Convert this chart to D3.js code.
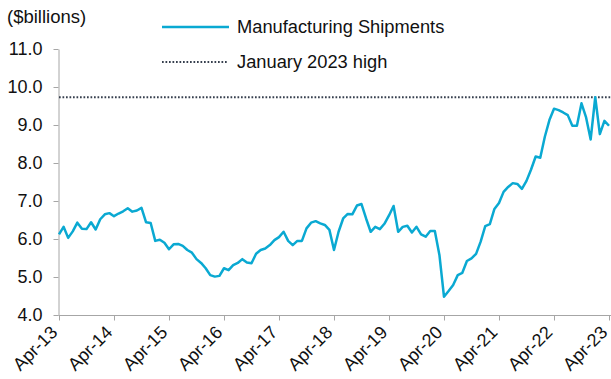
<!DOCTYPE html>
<html>
<head>
<meta charset="utf-8">
<script src="https://cdn.jsdelivr.net/npm/d3@7"></script>
<style>
  html, body { margin: 0; padding: 0; background: #fff; }
  svg { display: block; font-family: "Liberation Sans", Arial, sans-serif; }
</style>
</head>
<body>
<svg id="chart" width="611" height="379"></svg>
<script>
// ---- data (monthly, Apr-2013 .. Apr-2023, $ billions) ----
const startMonth = new Date(2013, 3, 1);
const shipments = [
  6.12, 6.32, 6.03, 6.20, 6.43, 6.27, 6.26, 6.44, 6.25, 6.52, 6.65, 6.68,
  6.60, 6.67, 6.73, 6.81, 6.72, 6.75, 6.82, 6.44, 6.42, 5.95, 5.98, 5.90,
  5.73, 5.86, 5.87, 5.82, 5.71, 5.64, 5.47, 5.37, 5.23, 5.05, 5.01, 5.03,
  5.23, 5.18, 5.31, 5.37, 5.47, 5.38, 5.36, 5.61, 5.71, 5.75, 5.84, 5.97,
  6.05, 6.19, 5.95, 5.84, 5.95, 5.95, 6.28, 6.43, 6.47, 6.41, 6.37, 6.24,
  5.71, 6.19, 6.54, 6.66, 6.65, 6.88, 6.92, 6.54, 6.19, 6.32, 6.26, 6.40,
  6.62, 6.87, 6.19, 6.32, 6.35, 6.17, 6.32, 6.12, 6.06, 6.21, 6.21, 5.58,
  4.48, 4.63, 4.79, 5.05, 5.11, 5.42, 5.49, 5.61, 5.93, 6.34, 6.39, 6.79,
  6.95, 7.24, 7.37, 7.47, 7.45, 7.32, 7.53, 7.83, 8.17, 8.14, 8.69, 9.13,
  9.43, 9.39, 9.33, 9.26, 8.98, 8.98, 9.57, 9.20, 8.62, 9.73, 8.76, 9.11,
  8.98
];
const months = shipments.map((_, i) => d3.timeMonth.offset(startMonth, i));
const january2023High = 9.73;
const xTickLabels = ["Apr-13","Apr-14","Apr-15","Apr-16","Apr-17","Apr-18","Apr-19","Apr-20","Apr-21","Apr-22","Apr-23"];
const yTicks = [4, 5, 6, 7, 8, 9, 10, 11];
const legendLabels = ["Manufacturing Shipments", "January 2023 high"];
const unitLabel = "($billions)";

// ---- layout ----
const svg = d3.select("#chart");
const mLeft = 59, mRight = 609, mTop = 49, mBottom = 315;
const lineColor = "#0aa9d2";
const dotColor = "#363f4e";
const axisColor = "#a6a6a6";
const fontSize = 18;
const fontFam = "Liberation Sans, Arial, sans-serif";

const x = d3.scaleLinear().domain([0, shipments.length - 1]).range([mLeft, mRight]);
const y = d3.scaleLinear().domain([4, 11]).range([mBottom, mTop]);

// y axis
const yAxis = svg.append("g").attr("transform", `translate(${mLeft - 0.5},0)`)
  .call(d3.axisLeft(y).tickValues(yTicks).tickFormat(d3.format(".1f")).tickSize(5).tickPadding(11).tickSizeOuter(0));
yAxis.select(".domain").attr("stroke", axisColor);
yAxis.selectAll(".tick line").attr("stroke", axisColor);
yAxis.selectAll(".tick text").attr("font-size", fontSize).attr("fill", "#111").attr("font-family", fontFam);

// x axis
const xTickIdx = xTickLabels.map((_, i) => i * 12);
const xAxis = svg.append("g").attr("transform", `translate(0,${mBottom + 0.5})`)
  .call(d3.axisBottom(x).tickValues(xTickIdx).tickFormat((d, i) => xTickLabels[i]).tickSize(5).tickSizeOuter(0));
xAxis.select(".domain").attr("stroke", axisColor).attr("d", `M${mLeft - 0.5},0H611`);
xAxis.selectAll(".tick line").attr("stroke", axisColor);
xAxis.selectAll(".tick text")
  .attr("font-size", fontSize).attr("fill", "#111").attr("font-family", fontFam)
  .attr("text-anchor", "end")
  .attr("y", 0).attr("dy", 0)
  .attr("transform", "translate(-1,18) rotate(-45)");

// high line
svg.append("line")
  .attr("x1", mLeft).attr("x2", 611)
  .attr("y1", y(january2023High)).attr("y2", y(january2023High))
  .attr("stroke", dotColor).attr("stroke-width", 1.8).attr("stroke-dasharray", "1.7,1.8");

// series line
svg.append("path")
  .datum(shipments)
  .attr("fill", "none")
  .attr("stroke", lineColor)
  .attr("stroke-width", 2.5)
  .attr("stroke-linejoin", "round")
  .attr("d", d3.line().x((d, i) => x(i)).y(d => y(d)));

// unit label
svg.append("text").attr("x", 7).attr("y", 23).attr("font-size", 18.5).attr("fill", "#111").text(unitLabel);

// legend
const lg = svg.append("g");
lg.append("line").attr("x1", 162).attr("x2", 229).attr("y1", 27).attr("y2", 27)
  .attr("stroke", lineColor).attr("stroke-width", 2.5);
lg.append("text").attr("x", 237).attr("y", 27).attr("dy", "0.35em").attr("font-size", 18.3).attr("fill", "#111").text(legendLabels[0]);
lg.append("line").attr("x1", 162).attr("x2", 227).attr("y1", 62).attr("y2", 62)
  .attr("stroke", dotColor).attr("stroke-width", 1.8).attr("stroke-dasharray", "1.7,1.8");
lg.append("text").attr("x", 237).attr("y", 62).attr("dy", "0.35em").attr("font-size", 18.3).attr("fill", "#111").text(legendLabels[1]);
</script>
</body>
</html>
